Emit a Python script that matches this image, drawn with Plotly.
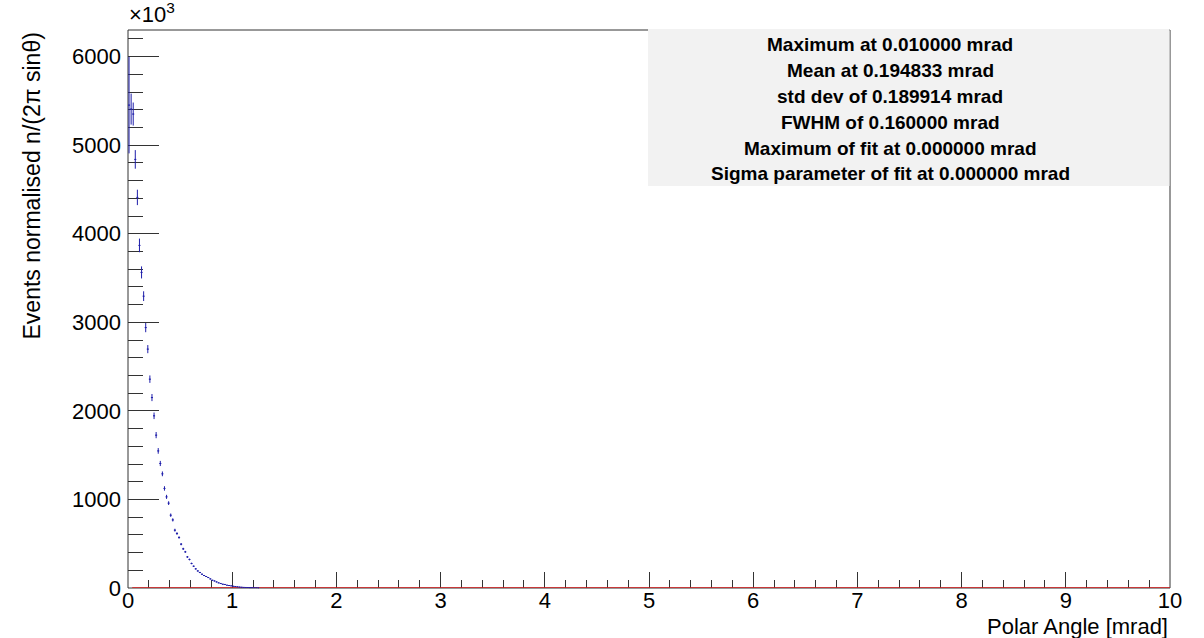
import plotly.graph_objects as go

# ---- data ----
bin_centers = [0.01, 0.03, 0.05, 0.07, 0.09, 0.11, 0.13, 0.15, 0.17, 0.19,
               0.21, 0.23, 0.25, 0.27, 0.29, 0.31, 0.33, 0.35, 0.37, 0.39,
               0.41, 0.43, 0.45, 0.47, 0.49, 0.51, 0.53, 0.55, 0.57, 0.59,
               0.61, 0.63, 0.65, 0.67, 0.69, 0.71, 0.73, 0.75, 0.77, 0.79,
               0.81, 0.83, 0.85, 0.87, 0.89, 0.91, 0.93, 0.95, 0.97, 0.99,
               1.01, 1.03, 1.05, 1.07, 1.09, 1.11, 1.13, 1.15, 1.17, 1.19,
               1.21, 1.23, 1.25]
counts = [5452, 5407, 5351, 4839, 4410, 3868, 3563, 3295, 2940, 2697,
          2358, 2150, 1944, 1726, 1548, 1406, 1289, 1124, 1029, 958,
          822, 769, 653, 615, 570, 495, 442, 408, 351, 322,
          277, 246, 216, 193, 175, 156, 141, 130, 118, 103,
          88, 80, 69, 58, 51, 43, 40, 32, 28, 24,
          20, 17, 14, 11, 9, 7, 6, 5, 4, 3,
          2, 2, 1]
count_errors = [545, 175, 130, 105, 87, 77, 68, 55, 52, 46,
                42, 40, 37, 35, 32, 29, 27, 25, 23, 21,
                19, 18, 16, 15, 14, 13, 12, 11, 10, 10,
                9, 8, 8, 7, 7, 6, 6, 5, 5, 5,
                4, 4, 4, 3, 3, 3, 3, 2, 2, 2,
                2, 2, 1, 1, 1, 1, 1, 1, 1, 1,
                1, 1, 1]
bin_half_width = 0.01

fit_x = [0.04, 10.0]
fit_y = [0.0, 0.0]

y_tick_vals = [0, 1000, 2000, 3000, 4000, 5000, 6000]
y_tick_text = ["0", "1000", "2000", "3000", "4000", "5000", "6000"]
x_tick_vals = [0, 1, 2, 3, 4, 5, 6, 7, 8, 9, 10]
x_tick_text = ["0", "1", "2", "3", "4", "5", "6", "7", "8", "9", "10"]

stats_lines = [
    "Maximum at 0.010000 mrad",
    "Mean at 0.194833 mrad",
    "std dev of 0.189914 mrad",
    "FWHM of 0.160000 mrad",
    "Maximum of fit at 0.000000 mrad",
    "Sigma parameter of fit at 0.000000 mrad",
]

# ---- layout geometry (pixels) ----
W, H = 1204, 638
L, R, T, B = 128, 1170, 30, 588
pw, ph = R - L, B - T

def px_x(p):
    return (p - L) / pw

def px_y(p):
    return (B - p) / ph

FONT = "Liberation Sans, Arial, Helvetica, sans-serif"
AXC = "#333333"
PT = "rgb(30,30,170)"

fig = go.Figure()

fig.add_trace(go.Scatter(
    x=fit_x, y=fit_y, mode="lines",
    line=dict(color="rgb(215,25,25)", width=1.6),
    hoverinfo="skip", showlegend=False, cliponaxis=False,
))

fig.add_trace(go.Scatter(
    x=bin_centers, y=counts, mode="markers",
    marker=dict(size=1, color=PT),
    error_y=dict(type="data", array=count_errors, visible=True,
                 color=PT, thickness=1, width=0),
    error_x=dict(type="constant", value=bin_half_width, visible=True,
                 color=PT, thickness=1, width=0),
    showlegend=False, cliponaxis=False,
))

fig.update_layout(
    width=W, height=H,
    margin=dict(l=L, r=W - R, t=T, b=H - B, pad=0),
    paper_bgcolor="white", plot_bgcolor="white",
    font=dict(family=FONT, size=22, color="black"),
    showlegend=False,
)

fig.update_xaxes(
    range=[0, 10], showgrid=False, zeroline=False, showline=False,
    layer="below traces",
    ticks="inside", ticklen=16, tickwidth=1, tickcolor=AXC,
    tickvals=x_tick_vals, ticktext=x_tick_text, ticklabelstandoff=-3,
    tickfont=dict(size=22, family=FONT, color="black"),
    minor=dict(ticks="inside", ticklen=8, tickwidth=1, tickcolor=AXC, dtick=0.2, showgrid=False),
)
fig.update_yaxes(
    range=[0, 6300], showgrid=False, zeroline=False, showline=False,
    layer="below traces",
    ticks="inside", ticklen=31, tickwidth=1, tickcolor=AXC,
    tickvals=y_tick_vals, ticktext=y_tick_text, ticklabelstandoff=6,
    tickfont=dict(size=22, family=FONT, color="black"),
    minor=dict(ticks="inside", ticklen=15, tickwidth=1, tickcolor=AXC, dtick=200, showgrid=False),
)

# frame (below traces so the fit line sits on top of the bottom edge)
fig.add_shape(type="rect", xref="paper", yref="paper", x0=0, x1=1, y0=0, y1=1,
              line=dict(color=AXC, width=1), fillcolor="rgba(0,0,0,0)", layer="below")

# stats box
fig.add_shape(type="rect", xref="paper", yref="paper",
              x0=px_x(648), x1=px_x(1169.5), y0=px_y(186), y1=px_y(29),
              fillcolor="#f2f2f2", line=dict(width=0), layer="above")

line_y = [45, 71, 97, 122, 148, 173]
for txt, yy in zip(stats_lines, line_y):
    fig.add_annotation(text="<b>" + txt + "</b>", xref="paper", yref="paper",
                       x=px_x(890), y=px_y(yy), xanchor="center", yanchor="middle",
                       showarrow=False, font=dict(size=19, family=FONT, color="black"))

# exponent label
fig.add_annotation(text="×10<sup>3</sup>", xref="paper", yref="paper",
                   x=px_x(127), y=px_y(29), xanchor="left", yanchor="bottom",
                   showarrow=False, font=dict(size=22, family=FONT, color="black"))

# y-axis title (top-aligned)
fig.add_annotation(text="Events normalised n/(2π sinθ)", xref="paper", yref="paper",
                   x=px_x(32), y=px_y(31), xanchor="center", yanchor="top",
                   textangle=-90, showarrow=False,
                   font=dict(size=23, family=FONT, color="black"))

# x-axis title (right-aligned)
fig.add_annotation(text="Polar Angle [mrad]", xref="paper", yref="paper",
                   x=1.0, y=px_y(626), xanchor="right", yanchor="middle",
                   showarrow=False, font=dict(size=22, family=FONT, color="black"))

fig.write_html("out.html")
